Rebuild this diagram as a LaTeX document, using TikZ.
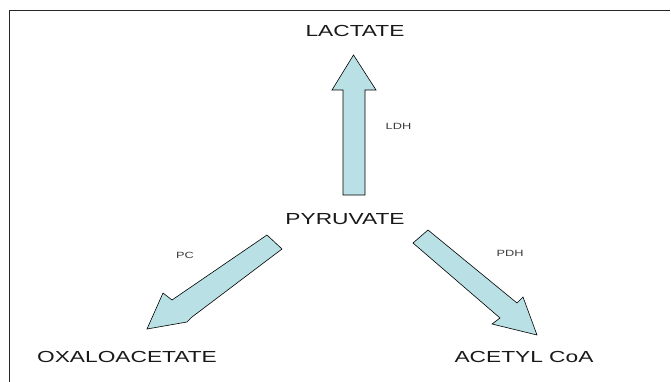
\documentclass[tikz,border=0pt]{standalone}
\usepackage{fontspec}
\setmainfont{Liberation Sans}[FakeStretch=1.42]
\definecolor{arrowfill}{RGB}{185,224,228}
\definecolor{txt}{RGB}{25,25,25}
\begin{document}
\begin{tikzpicture}[x=1pt,y=-1pt,
  big/.style={font=\fontsize{16}{18}\selectfont, text=txt, inner sep=0pt},
  small/.style={font=\fontsize{9}{10}\selectfont, text=txt!85, inner sep=0pt},
  blockarrow/.style={draw=black, line width=0.6pt, fill=arrowfill, line join=miter}]
\useasboundingbox (0,0) rectangle (671,382);
\draw[line width=0.8pt, black!85] (9,382) -- (9,10) -- (670,10);
% labels
\node[big] (lac) at (355,31) {LACTATE};
\node[big] (pyr) at (345,219) {PYRUVATE};
\node[big] (oxa) at (127,357) {OXALOACETATE};
\node[big] (ace) at (524,357) {ACETYL CoA};
\node[small] (ldh) at (398.5,126) {LDH};
\node[small] (pc) at (185,255) {PC};
\node[small] (pdh) at (510,253) {PDH};
% up arrow (LDH)
\draw[blockarrow] (343,195) -- (343,90) -- (332,90) -- (353.5,55) -- (376,90) -- (365,90) -- (365,195) -- cycle;
% PC arrow
\draw[blockarrow] (282,249) -- (192,317) -- (187,322) -- (147,329) -- (163,293) -- (172,300) -- (267,235) -- cycle;
% PDH arrow
\draw[blockarrow] (428,230) -- (517,303) -- (523,297) -- (537,335) -- (492,324) -- (500,318) -- (413,243) -- cycle;
\end{tikzpicture}
\end{document}
